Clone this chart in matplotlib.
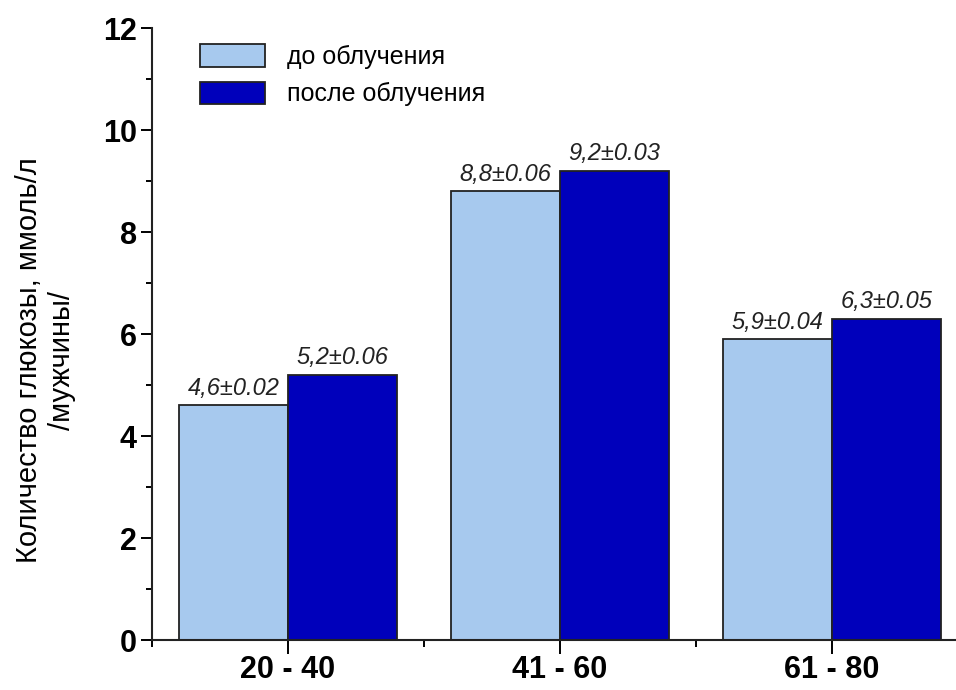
import matplotlib
matplotlib.use("Agg")
import matplotlib.pyplot as plt
import numpy as np
from matplotlib.ticker import MultipleLocator, FixedLocator

plt.rcParams['font.family'] = ['Liberation Sans', 'DejaVu Sans']

categories = ["20 - 40", "41 - 60", "61 - 80"]
before = [4.6, 8.8, 5.9]
after = [5.2, 9.2, 6.3]
before_labels = ["4,6±0.02", "8,8±0.06", "5,9±0.04"]
after_labels = ["5,2±0.06", "9,2±0.03", "6,3±0.05"]
series_names = ["до облучения", "после облучения"]

W, H = 956, 690
fig = plt.figure(figsize=(W / 100, H / 100), dpi=100)
left, right, bottom, top = 152, 968, 640, 28
ax = fig.add_axes([left / W, 1 - bottom / H, (right - left) / W, (bottom - top) / H])

x = np.arange(len(categories))
bw = 0.4
light = "#A7C9EE"
dark = "#0000BB"
ax.bar(x - bw / 2, before, bw, color=light, edgecolor="#222222", linewidth=1.3,
       label=series_names[0])
ax.bar(x + bw / 2, after, bw, color=dark, edgecolor="#222222", linewidth=1.3,
       label=series_names[1])

for xs, vals, texts in ((x - bw / 2, before, before_labels), (x + bw / 2, after, after_labels)):
    for xi, v, t in zip(xs, vals, texts):
        ax.annotate(t, (xi, v), xytext=(0, 4), textcoords="offset points",
                    ha="center", va="bottom", fontsize=17, style="italic", color="#222222")

ax.set_xlim(-0.5, 2.5)
ax.set_ylim(0, 12)
ax.yaxis.set_major_locator(MultipleLocator(2))
ax.yaxis.set_minor_locator(MultipleLocator(1))
ax.set_xticks(x)
ax.set_xticklabels(categories, fontsize=22, fontweight="bold")
ax.xaxis.set_minor_locator(FixedLocator([-0.5, 0.5, 1.5]))
ax.tick_params(axis="y", which="major", direction="out", length=8, width=1.4,
               labelsize=22, pad=3)
for lab in ax.get_yticklabels():
    lab.set_fontweight("bold")
ax.tick_params(axis="y", which="minor", direction="out", length=4, width=1.4)
ax.tick_params(axis="x", which="major", direction="out", length=10, width=1.4, pad=1)
ax.tick_params(axis="x", which="minor", direction="out", length=5, width=1.4)

for s in ["top", "right"]:
    ax.spines[s].set_visible(False)
for s in ["left", "bottom"]:
    ax.spines[s].set_linewidth(1.5)
    ax.spines[s].set_color("#222222")

ax.set_ylabel("Количество глюкозы, ммоль/л\n/мужчины/", fontsize=21,
              linespacing=1.25)
ax.yaxis.set_label_coords(-0.093, 0.457)

ax.legend(loc="upper left", bbox_to_anchor=(0.031, 1.01), frameon=False, fontsize=18,
          handlelength=2.6, handleheight=1.0, labelspacing=0.5, handletextpad=0.9)

fig.savefig("out.png", dpi=100)
